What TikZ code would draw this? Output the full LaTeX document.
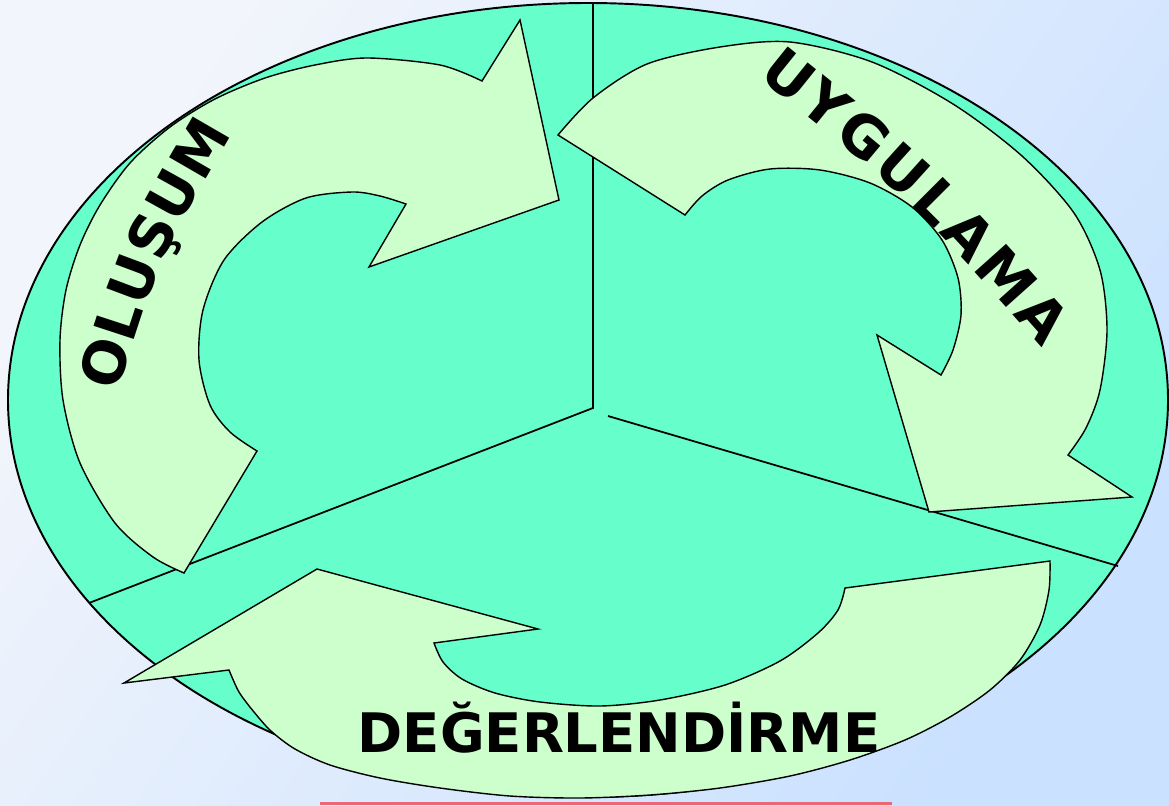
\documentclass[tikz,border=0pt]{standalone}
\usepackage{fontspec}
\usetikzlibrary{decorations.text}
\newfontfamily\labelfont{DejaVu Sans}
\definecolor{bgleft}{RGB}{242,245,251}
\definecolor{bgright}{RGB}{202,225,255}
\definecolor{turq}{RGB}{102,255,204}
\definecolor{pale}{RGB}{204,255,204}
\definecolor{redline}{RGB}{232,104,120}
\tikzset{
  band/.style={fill=pale, draw=black, line width=0.8pt, line join=miter},
  curvetext/.style={decorate, decoration={text along path, text align={fit to path},
    text={|\labelfont\bfseries\fontsize{33}{33}\selectfont|#1}}},
}
\begin{document}
\begin{tikzpicture}
    [x=0.02cm, y=0.02cm]
    %background
    \useasboundingbox (0,0) rectangle (1169,-805);
    \shade[top color=bgleft, bottom color=bgright, shading angle=55] (0,0) rectangle (1169,-805);
    %ellipse
    \draw[fill=turq, line width=1.1pt] (588,-400) ellipse [x radius=580, y radius=397];
    %dividers
    \draw[line width=1pt] (593,-3) -- (593,-408) -- (89,-603);
    \draw[line width=1pt] (608,-416) -- (1118,-566);
    %arrow olusum
    \draw[band] plot[smooth, tension=0.5] coordinates {(184,-573) (153,-557) (115,-523) (80,-463) (63,-400) (60,-340) (66,-290) (80,-245) (100,-205) (130,-163) (170,-127) (215,-99) (265,-78) (315,-65) (367,-58) (440,-65) (482,-81)}
      -- (520,-20) -- (559,-200) -- (369,-267)
      -- plot[smooth, tension=0.5] coordinates {(406,-204) (380,-196) (352,-192) (306,-198) (262,-222) (224,-260) (203,-310) (199,-360) (210,-405) (230,-432) (257,-451)}
      -- cycle;
    %arrow uygulama
    \draw[band] plot[smooth, tension=0.5] coordinates {(558,-135) (593,-98) (647,-64) (720,-47) (790,-42) (872,-62) (953,-104) (1022,-156) (1074,-213) (1100,-270) (1107,-330) (1100,-390) (1086,-428) (1068,-455)}
      -- (1132,-497) -- (929,-512) -- (877,-335)
      -- plot[smooth, tension=0.5] coordinates {(941,-375) (953,-350) (961,-315) (958,-278) (942,-240) (912,-207) (870,-183) (820,-170) (770,-169) (728,-180) (702,-196) (685,-215)}
      -- cycle;
    %arrow degerlendirme
    \draw[band] plot[smooth, tension=0.5] coordinates {(1050,-561) (1049,-590) (1040,-625) (1020,-660) (990,-690) (950,-717) (905,-740) (850,-760) (790,-776) (720,-788) (650,-795) (580,-798) (510,-796) (440,-788) (380,-778) (330,-765) (295,-749) (271,-731) (254,-712) (239,-692) (229,-670)}
      -- (124,-683) -- (317,-569) -- (538,-629)
      -- plot[smooth, tension=0.5] coordinates {(434,-643) (443,-662) (462,-679) (495,-693) (540,-702) (600,-706) (660,-700) (725,-685) (780,-661) (818,-633) (838,-610) (845,-588)}
      -- cycle;
    %labels
    \path[curvetext=OLUŞUM] (118,-392) .. controls (160,-258) .. (232,-134);
    \path[curvetext=UYGULAMA] (757,-76) .. controls (910,-199) .. (1042,-348);
    \node[anchor=base, inner sep=0pt, font=\labelfont\bfseries\fontsize{31}{31}\selectfont] (evaluation) at (619,-752) {DEĞERLENDİRME};
    %red line
    \draw[redline, line width=1.2pt] (320,-803.5) -- (892,-803.5);
\end{tikzpicture}
\end{document}
